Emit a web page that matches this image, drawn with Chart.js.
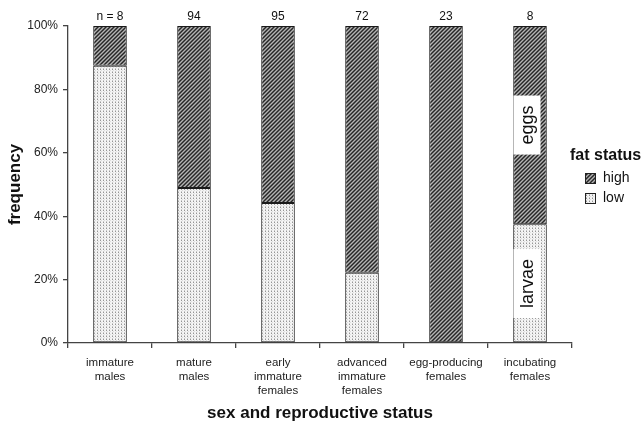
<!DOCTYPE html>
<html><head><meta charset="utf-8">
<script src="https://cdn.jsdelivr.net/npm/chart.js@4/dist/chart.umd.min.js"></script>
<style>html,body{margin:0;padding:0;background:#fff}#wrap{width:641px;height:424px}</style>
</head><body><div id="wrap"><canvas id="c" width="641" height="424"></canvas></div>
<script>
// ---- data ----
const categories = [['immature','males'],['mature','males'],['early','immature','females'],['advanced','immature','females'],['egg-producing','females'],['incubating','females']];
const sampleSizes = [8, 94, 95, 72, 23, 8];
const lowFat  = [87.5, 48.9, 44.2, 22.2, 0, 37.5];
const highFat = [12.5, 51.1, 55.8, 77.8, 100, 62.5];
const yTicks = [0, 20, 40, 60, 80, 100];
const seriesNames = ['high', 'low'];
const legendTitle = 'fat status';
const innerLabels = [{cat: 5, series: 'high', text: 'eggs'}, {cat: 5, series: 'low', text: 'larvae'}];
const xTitle = 'sex and reproductive status';
const yTitle = 'frequency';

const FONT = '"Liberation Sans", Arial, Helvetica, sans-serif';
Chart.defaults.font.family = FONT;

function makePattern(kind){
  const c = document.createElement('canvas');
  const g = c.getContext('2d');
  if (kind === 'high'){
    c.width = 4; c.height = 4;
    const shades = ['#262626', '#666', '#b4b4b4', '#6e6e6e'];
    for (let y=0;y<4;y++) for (let x=0;x<4;x++){
      g.fillStyle = shades[(x + y) % 4];
      g.fillRect(x,y,1,1);
    }
  } else {
    c.width = 3; c.height = 3;
    g.fillStyle = '#f4f4f4'; g.fillRect(0,0,3,3);
    g.fillStyle = '#959595'; g.fillRect(1,0,1,1);
    g.fillStyle = '#c8c8c8'; g.fillRect(1,2,1,1);
    g.fillStyle = '#dedede'; g.fillRect(2,1,1,1);
  }
  return document.getElementById('c').getContext('2d').createPattern(c,'repeat');
}
const patHigh = makePattern('high');
const patLow = makePattern('low');

const annot = {
  id: 'annot',
  afterDatasetsDraw(chart){
    const ctx = chart.ctx, xs = chart.scales.x, ys = chart.scales.y;
    ctx.save();
    // sample sizes
    ctx.font = '12px ' + FONT; ctx.fillStyle = '#111';
    ctx.textAlign = 'center'; ctx.textBaseline = 'middle';
    sampleSizes.forEach((n,i)=>{
      ctx.fillText((i===0 ? 'n = ' : '') + n, xs.getPixelForValue(i), ys.getPixelForValue(100) - 9);
    });
    // inner labels
    ctx.font = '18px ' + FONT;
    innerLabels.forEach(l=>{
      const lo = lowFat[l.cat];
      const a = l.series === 'low' ? 0 : lo;
      const b = l.series === 'low' ? lo : lo + highFat[l.cat];
      const cy = (ys.getPixelForValue(a) + ys.getPixelForValue(b)) / 2;
      const cx = xs.getPixelForValue(l.cat) - 3;
      const tw = ctx.measureText(l.text).width;
      const h = tw + 20, w = 27;
      ctx.fillStyle = '#fff';
      ctx.fillRect(cx - w/2, cy - h/2, w, h);
      ctx.save();
      ctx.translate(cx, cy); ctx.rotate(-Math.PI/2);
      ctx.fillStyle = '#111'; ctx.textAlign = 'center'; ctx.textBaseline = 'middle';
      ctx.fillText(l.text, 0, 1);
      ctx.restore();
    });
    // legend
    ctx.textAlign = 'left'; ctx.textBaseline = 'middle';
    ctx.font = 'bold 16px ' + FONT; ctx.fillStyle = '#111';
    ctx.fillText(legendTitle, 570, 156);
    ctx.font = '14px ' + FONT;
    seriesNames.forEach((s,i)=>{
      const by = 173 + i*20;
      ctx.fillStyle = s === 'high' ? patHigh : patLow;
      ctx.fillRect(585, by, 11, 11);
      ctx.strokeStyle = '#222'; ctx.lineWidth = 1;
      ctx.strokeRect(585.5, by + 0.5, 10, 10);
      ctx.fillStyle = '#111';
      ctx.fillText(s, 603, by + 5.5);
    });
    ctx.restore();
  }
};

new Chart(document.getElementById('c'), {
  type: 'bar',
  data: {
    labels: categories,
    datasets: [
      {label: 'low', data: lowFat, backgroundColor: patLow, borderColor: '#1a1a1a', borderWidth: 1, borderSkipped: false, stack: 's'},
      {label: 'high', data: highFat, backgroundColor: patHigh, borderColor: '#1a1a1a', borderWidth: 1, borderSkipped: false, stack: 's'}
    ]
  },
  options: {
    responsive: false, animation: false, devicePixelRatio: 1,
    layout: {padding: {left: 0, right: 69, top: 26, bottom: 0}},
    datasets: {bar: {barPercentage: 0.4, categoryPercentage: 1}},
    plugins: {legend: {display: false}, tooltip: {enabled: false}},
    scales: {
      x: {
        stacked: true,
        afterFit: s => { s.height = 81; },
        grid: {drawOnChartArea: false, drawTicks: true, tickLength: 5, color: '#444', lineWidth: 1.3, offset: true},
        border: {color: '#444', width: 1.3},
        ticks: {color: '#222', font: {size: 11.5}, maxRotation: 0, autoSkip: false, padding: 8},
        title: {display: true, text: xTitle, color: '#111', font: {size: 17, weight: 'bold'}, padding: {top: 0, bottom: 0}}
      },
      y: {
        stacked: true, min: 0, max: 100,
        afterFit: s => { s.width = 68; },
        afterBuildTicks: s => { s.ticks = yTicks.map(v => ({value: v})); },
        grid: {drawOnChartArea: false, drawTicks: true, tickLength: 5, color: '#444', lineWidth: 1.3},
        border: {color: '#444', width: 1.3},
        ticks: {color: '#222', font: {size: 12}, padding: 5, callback: v => v + '%'},
        title: {display: true, text: yTitle, color: '#111', font: {size: 17, weight: 'bold'}, padding: {top: 5, bottom: 0}}
      }
    }
  },
  plugins: [annot]
});
</script>
</body></html>
